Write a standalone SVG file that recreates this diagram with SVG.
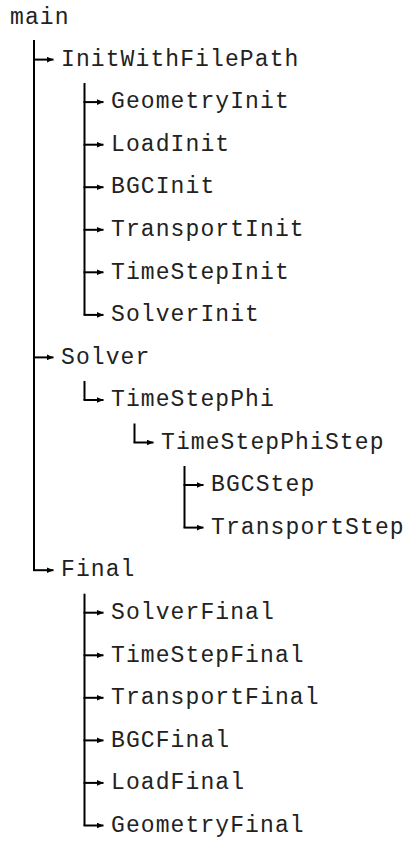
<svg xmlns="http://www.w3.org/2000/svg" width="406" height="843" viewBox="0 0 406 843">
<style>
text{font-family:"Liberation Mono","Courier New",monospace;font-size:23px;letter-spacing:1.1px;fill:#222}
.c line,.c path{stroke:#000;stroke-width:2;fill:none}
.h{marker-end:url(#arr)}
</style>
<defs>
<marker id="arr" markerUnits="userSpaceOnUse" markerWidth="7" markerHeight="6" refX="7" refY="3" orient="auto">
<path d="M0,0 L7,3 L0,6 z" fill="#000"/>
</marker>
</defs>
<rect width="406" height="843" fill="#fff"/>
<g class="c" id="connectors">
<line x1="34" y1="40" x2="34" y2="570.2"/>
<line class="h" x1="33" y1="59.6" x2="53.5" y2="59.6"/>
<line class="h" x1="33" y1="357.4" x2="53.5" y2="357.4"/>
<line class="h" x1="33" y1="570.2" x2="53.5" y2="570.2"/>
<line x1="84.5" y1="83" x2="84.5" y2="314.9"/>
<line class="h" x1="83.5" y1="102.1" x2="103.5" y2="102.1"/>
<line class="h" x1="83.5" y1="144.7" x2="103.5" y2="144.7"/>
<line class="h" x1="83.5" y1="187.2" x2="103.5" y2="187.2"/>
<line class="h" x1="83.5" y1="229.8" x2="103.5" y2="229.8"/>
<line class="h" x1="83.5" y1="272.3" x2="103.5" y2="272.3"/>
<line class="h" x1="83.5" y1="314.9" x2="103.5" y2="314.9"/>
<line x1="84.5" y1="381" x2="84.5" y2="400"/>
<line class="h" x1="83.5" y1="400" x2="103.5" y2="400"/>
<line x1="134.5" y1="423.5" x2="134.5" y2="442.5"/>
<line class="h" x1="133.5" y1="442.5" x2="153.5" y2="442.5"/>
<line x1="184.5" y1="466" x2="184.5" y2="527.6"/>
<line class="h" x1="183.5" y1="485" x2="203.5" y2="485"/>
<line class="h" x1="183.5" y1="527.6" x2="203.5" y2="527.6"/>
<line x1="84.5" y1="593.7" x2="84.5" y2="825.5"/>
<line class="h" x1="83.5" y1="612.7" x2="103.5" y2="612.7"/>
<line class="h" x1="83.5" y1="655.3" x2="103.5" y2="655.3"/>
<line class="h" x1="83.5" y1="697.8" x2="103.5" y2="697.8"/>
<line class="h" x1="83.5" y1="740.4" x2="103.5" y2="740.4"/>
<line class="h" x1="83.5" y1="782.9" x2="103.5" y2="782.9"/>
<line class="h" x1="83.5" y1="825.5" x2="103.5" y2="825.5"/>
</g>
<g id="n-main"><text x="10" y="24">main</text></g>
<g id="n-InitWithFilePath"><text x="61" y="65.8">InitWithFilePath</text></g>
<g id="n-GeometryInit"><text x="111" y="108.3">GeometryInit</text></g>
<g id="n-LoadInit"><text x="111" y="150.9">LoadInit</text></g>
<g id="n-BGCInit"><text x="111" y="193.4">BGCInit</text></g>
<g id="n-TransportInit"><text x="111" y="236">TransportInit</text></g>
<g id="n-TimeStepInit"><text x="111" y="278.5">TimeStepInit</text></g>
<g id="n-SolverInit"><text x="111" y="321.1">SolverInit</text></g>
<g id="n-Solver"><text x="61" y="363.6">Solver</text></g>
<g id="n-TimeStepPhi"><text x="111" y="406.2">TimeStepPhi</text></g>
<g id="n-TimeStepPhiStep"><text x="161" y="448.7">TimeStepPhiStep</text></g>
<g id="n-BGCStep"><text x="211" y="491.2">BGCStep</text></g>
<g id="n-TransportStep"><text x="211" y="533.8">TransportStep</text></g>
<g id="n-Final"><text x="61" y="576.4">Final</text></g>
<g id="n-SolverFinal"><text x="111" y="618.9">SolverFinal</text></g>
<g id="n-TimeStepFinal"><text x="111" y="661.5">TimeStepFinal</text></g>
<g id="n-TransportFinal"><text x="111" y="704">TransportFinal</text></g>
<g id="n-BGCFinal"><text x="111" y="746.6">BGCFinal</text></g>
<g id="n-LoadFinal"><text x="111" y="789.1">LoadFinal</text></g>
<g id="n-GeometryFinal"><text x="111" y="831.7">GeometryFinal</text></g>
</svg>
